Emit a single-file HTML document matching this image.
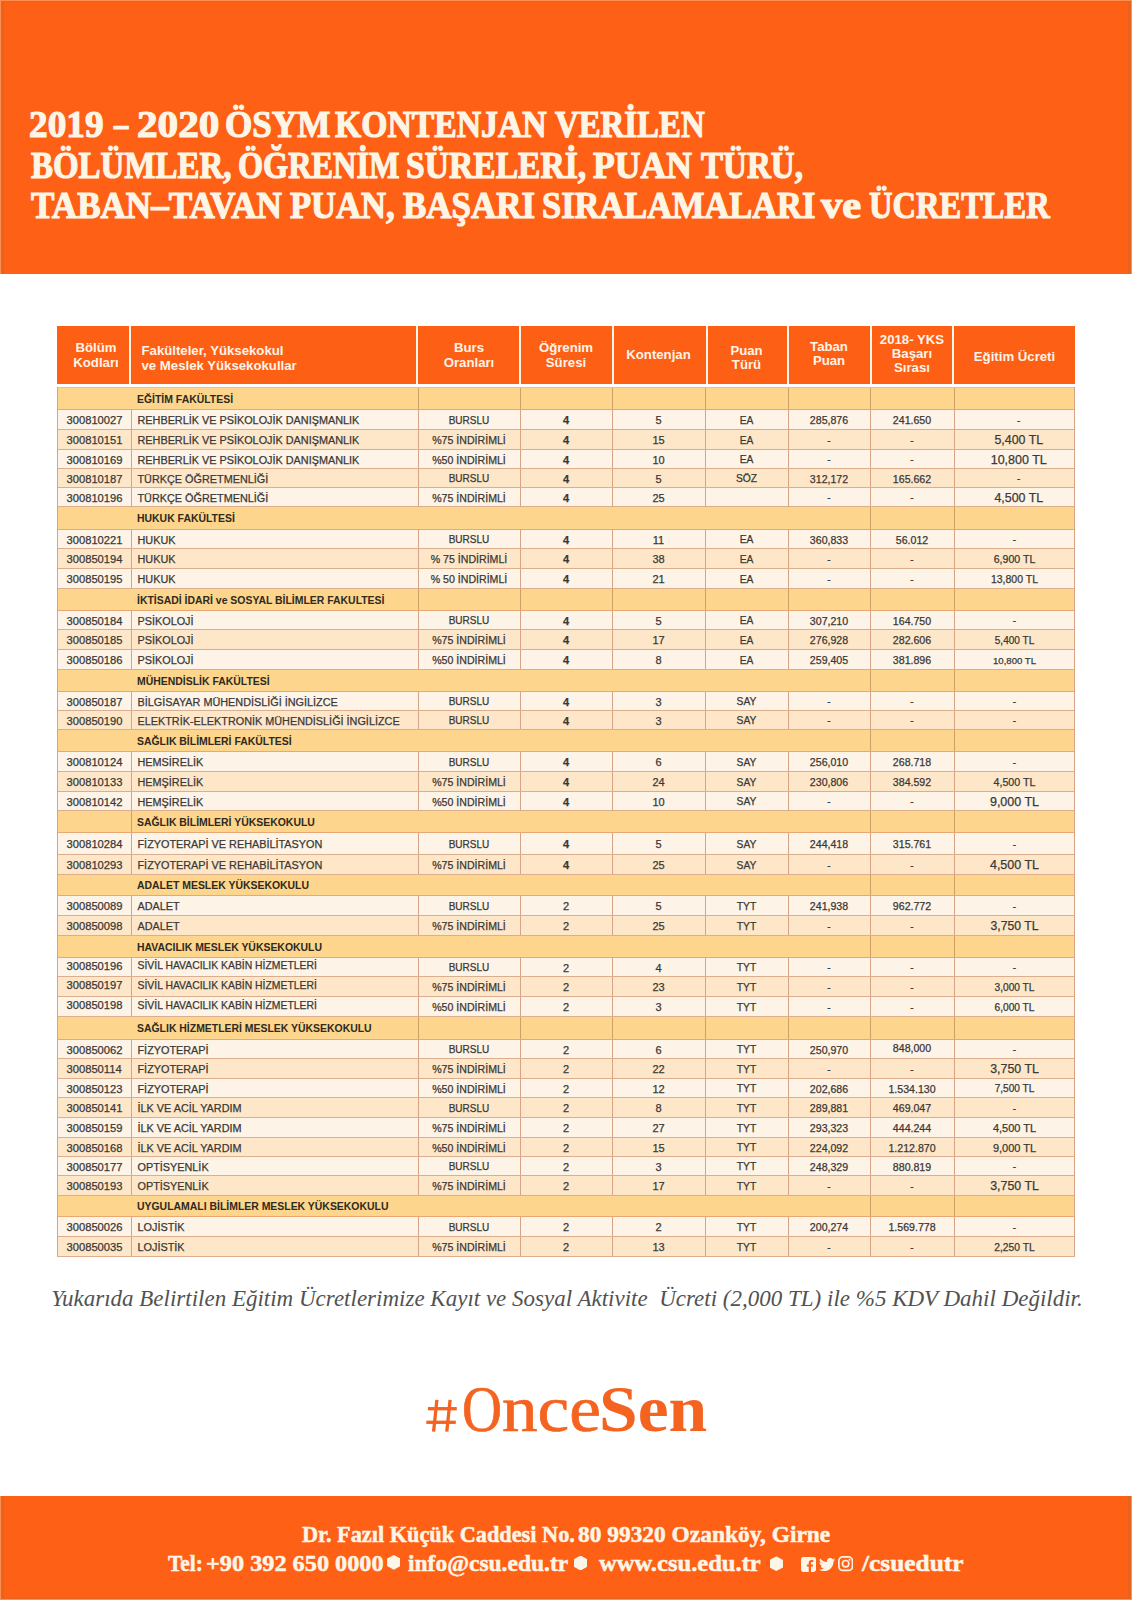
<!DOCTYPE html>
<html lang="tr"><head><meta charset="utf-8"><title>2019-2020 ÖSYM Kontenjan</title>
<style>
*{margin:0;padding:0;box-sizing:border-box}
html,body{width:1132px;height:1600px;overflow:hidden;background:#fff}
body{position:relative;font-family:"Liberation Sans",sans-serif;color:#3b3835}
.top{position:absolute;left:0;top:0;width:1132px;height:274px;background:#fe6016;box-shadow:inset 1px 1px 0 #fe8f50,inset -1px 0 0 #fe8f50,inset 4px 2px 0 #e6641f,inset -4px 0 0 #e6641f}
.title{position:absolute;left:29px;font-family:"Liberation Serif",serif;font-weight:bold;color:#fdf5e6;font-size:38px;line-height:38px;white-space:nowrap;transform-origin:0 0;-webkit-text-stroke:1.2px #fdf5e6}
.hdr{position:absolute;left:57px;top:326px;width:1018px;height:58px;background:#fd5f15}
.hc{position:absolute;color:#fff4e8;font-weight:bold;font-size:13.2px;white-space:nowrap}
.hsep{position:absolute;top:0;width:2.1px;height:58px;background:#fff6ea}
.r{position:absolute;left:57px;width:1018px}
.c{position:absolute;top:1.5px;bottom:0;white-space:nowrap;font-size:11px;display:flex;align-items:center;justify-content:center;-webkit-text-stroke:0.25px #3b3835}
.odd{background:#fdf3e6;border-top:1px solid #dcae8e}
.even{background:#fee7c9;border-top:1px solid #dcae8e}
.sr{background:#fdd58c;border-top:1px solid #dcae8e}
.odd.fs,.even.fs{border-top-color:#e8a874}
.c.l{justify-content:flex-start}
.vl{position:absolute;top:0;bottom:0;width:1px;background:#d7a385}
.hl{position:absolute;left:0;right:0;height:1px;background:#dcae8e}
.svl{background:#cf9f68}
.sec{font-weight:bold;color:#2e2a20;font-size:10.45px;-webkit-text-stroke:0}
.note{position:absolute;left:51.3px;top:1286.8px;font-family:"Liberation Serif",serif;font-style:italic;font-size:23px;line-height:23px;color:#525252;white-space:nowrap;transform-origin:0 0}
.once{position:absolute;top:1376.7px;transform-origin:0 0;font-family:"Liberation Serif",serif;font-size:65.6px;color:#f46320;white-space:nowrap;line-height:65.6px}
.once b{font-weight:bold}
.foot{position:absolute;left:0;top:1496px;width:1132px;height:104px;background:#fe6016;box-shadow:inset 1px -1px 0 #fe8f50,inset -1px 0 0 #fe8f50,inset 4px -2px 0 #e6641f,inset -4px 0 0 #e6641f}
.fl{position:absolute;font-family:"Liberation Serif",serif;font-weight:bold;color:#fdf5e6;font-size:23px;line-height:23px;white-space:nowrap;transform-origin:0 0;-webkit-text-stroke:0.5px #fdf5e6}
.hex{position:absolute;width:13.4px;height:14.8px;background:#fdf5e6;clip-path:polygon(50% 0,100% 25%,100% 75%,50% 100%,0 75%,0 25%)}
.ico{position:absolute}
</style></head><body>

<div class="top"></div>
<div class="title" style="left:28.93px;top:104.7px;transform:scaleX(0.9808)">2019</div>
<div class="title" style="left:114.12px;top:104.7px;transform:scaleX(0.7500)">–</div>
<div class="title" style="left:136.96px;top:104.7px;transform:scaleX(1.0849)">2020</div>
<div class="title" style="left:225.44px;top:104.7px;transform:scaleX(0.9243)">ÖSYM</div>
<div class="title" style="left:334.78px;top:104.7px;transform:scaleX(0.8871)">KONTENJAN</div>
<div class="title" style="left:554.75px;top:104.7px;transform:scaleX(0.8641)">VERİLEN</div>
<div class="title" style="left:30.78px;top:146.0px;transform:scaleX(0.8669)">BÖLÜMLER,</div>
<div class="title" style="left:237.59px;top:146.0px;transform:scaleX(0.8497)">ÖĞRENİM</div>
<div class="title" style="left:406.23px;top:146.0px;transform:scaleX(0.8842)">SÜRELERİ,</div>
<div class="title" style="left:593.14px;top:146.0px;transform:scaleX(0.9367)">PUAN</div>
<div class="title" style="left:700.88px;top:146.0px;transform:scaleX(0.8698)">TÜRÜ,</div>
<div class="title" style="left:31.25px;top:186.4px;transform:scaleX(0.9231)">TABAN–TAVAN</div>
<div class="title" style="left:289.96px;top:186.4px;transform:scaleX(0.9088)">PUAN,</div>
<div class="title" style="left:403.25px;top:186.4px;transform:scaleX(0.9203)">BAŞARI</div>
<div class="title" style="left:541.79px;top:186.4px;transform:scaleX(0.9052)">SIRALAMALARI</div>
<div class="title" style="left:821.30px;top:186.4px;transform:scaleX(1.1175)">ve</div>
<div class="title" style="left:868.73px;top:186.4px;transform:scaleX(0.8557)">ÜCRETLER</div>
<div class="hdr">
<div class="hc" style="left:0px;width:74px;top:13.9px;line-height:15.10px;text-align:center;padding-left:4px;">Bölüm<br>Kodları</div>
<div class="hc" style="left:74px;width:287px;top:16.7px;line-height:15.20px;text-align:left;padding-left:10.5px;">Fakülteler, Yüksekokul<br>ve Meslek Yüksekokullar</div>
<div class="hc" style="left:361px;width:102px;top:13.7px;line-height:15.30px;text-align:center;">Burs<br>Oranları</div>
<div class="hc" style="left:463px;width:92px;top:14.4px;line-height:15.10px;text-align:center;">Öğrenim<br>Süresi</div>
<div class="hc" style="left:555px;width:93px;top:20.6px;line-height:15.00px;text-align:center;">Kontenjan</div>
<div class="hc" style="left:648px;width:83px;top:17.5px;line-height:14.10px;text-align:center;">Puan<br>Türü</div>
<div class="hc" style="left:731px;width:82px;top:14.2px;line-height:14.10px;text-align:center;">Taban<br>Puan</div>
<div class="hc" style="left:813px;width:84px;top:6.5px;line-height:14.25px;text-align:center;">2018- YKS<br>Başarı<br>Sırası</div>
<div class="hc" style="left:897px;width:121px;top:23.0px;line-height:15.00px;text-align:center;">Eğitim Ücreti</div>
<div class="hsep" style="left:72.4px"></div>
<div class="hsep" style="left:359.1px"></div>
<div class="hsep" style="left:461.5px"></div>
<div class="hsep" style="left:554.9px"></div>
<div class="hsep" style="left:649.0px"></div>
<div class="hsep" style="left:730.1px"></div>
<div class="hsep" style="left:813.3px"></div>
<div class="hsep" style="left:895.1px"></div>
</div>
<div class="r sr" style="top:387px;height:22px;border-top-color:#dcc496;">
<div class="c l sec" style="left:80px">EĞİTİM FAKÜLTESİ</div>
<div class="vl svl" style="left:361px"></div>
<div class="vl svl" style="left:463px"></div>
<div class="vl svl" style="left:555px"></div>
<div class="vl svl" style="left:648px"></div>
<div class="vl svl" style="left:731px"></div>
<div class="vl svl" style="left:813px"></div>
<div class="vl svl" style="left:897px"></div>
</div>
<div class="r odd fs" style="top:409px;height:20px">
<div class="c l" style="left:9.5px;font-size:11.20px;">300810027</div>
<div class="c l" style="left:80.5px;font-size:10.85px;">REHBERLİK VE PSİKOLOJİK DANIŞMANLIK</div>
<div class="c" style="left:361px;width:102px;font-size:10.00px;">BURSLU</div>
<div class="c" style="left:463px;width:92px;font-size:11.00px;font-weight:bold;">4</div>
<div class="c" style="left:555px;width:93px;font-size:11.00px;">5</div>
<div class="c" style="left:648px;width:83px;font-size:10.30px;">EA</div>
<div class="c" style="left:731px;width:82px;font-size:10.60px;">285,876</div>
<div class="c" style="left:813px;width:84px;font-size:10.60px;">241.650</div>
<div class="c" style="left:897px;width:121px;font-size:10.00px;padding-left:8.5px;">-</div>
<div class="vl" style="left:74px"></div>
<div class="vl" style="left:361px"></div>
<div class="vl" style="left:463px"></div>
<div class="vl" style="left:555px"></div>
<div class="vl" style="left:648px"></div>
<div class="vl" style="left:731px"></div>
<div class="vl" style="left:813px"></div>
<div class="vl" style="left:897px"></div>
</div>
<div class="r even" style="top:429px;height:20px">
<div class="c l" style="left:9.5px;font-size:11.20px;">300810151</div>
<div class="c l" style="left:80.5px;font-size:10.85px;">REHBERLİK VE PSİKOLOJİK DANIŞMANLIK</div>
<div class="c" style="left:361px;width:102px;font-size:10.60px;">%75 İNDİRİMLİ</div>
<div class="c" style="left:463px;width:92px;font-size:11.00px;font-weight:bold;">4</div>
<div class="c" style="left:555px;width:93px;font-size:11.00px;">15</div>
<div class="c" style="left:648px;width:83px;font-size:10.30px;">EA</div>
<div class="c" style="left:731px;width:82px;font-size:10.00px;">-</div>
<div class="c" style="left:813px;width:84px;font-size:10.00px;">-</div>
<div class="c" style="left:897px;width:121px;font-size:12.40px;padding-left:8.5px;">5,400 TL</div>
<div class="vl" style="left:74px"></div>
<div class="vl" style="left:361px"></div>
<div class="vl" style="left:463px"></div>
<div class="vl" style="left:555px"></div>
<div class="vl" style="left:648px"></div>
<div class="vl" style="left:731px"></div>
<div class="vl" style="left:813px"></div>
<div class="vl" style="left:897px"></div>
</div>
<div class="r odd" style="top:449px;height:19px">
<div class="c l" style="left:9.5px;font-size:11.20px;">300810169</div>
<div class="c l" style="left:80.5px;font-size:10.85px;">REHBERLİK VE PSİKOLOJİK DANIŞMANLIK</div>
<div class="c" style="left:361px;width:102px;font-size:10.60px;">%50 İNDİRİMLİ</div>
<div class="c" style="left:463px;width:92px;font-size:11.00px;font-weight:bold;">4</div>
<div class="c" style="left:555px;width:93px;font-size:11.00px;">10</div>
<div class="c" style="left:648px;width:83px;font-size:10.30px;">EA</div>
<div class="c" style="left:731px;width:82px;font-size:10.00px;">-</div>
<div class="c" style="left:813px;width:84px;font-size:10.00px;">-</div>
<div class="c" style="left:897px;width:121px;font-size:12.50px;padding-left:8.5px;">10,800 TL</div>
<div class="vl" style="left:74px"></div>
<div class="vl" style="left:361px"></div>
<div class="vl" style="left:463px"></div>
<div class="vl" style="left:555px"></div>
<div class="vl" style="left:648px"></div>
<div class="vl" style="left:731px"></div>
<div class="vl" style="left:813px"></div>
<div class="vl" style="left:897px"></div>
</div>
<div class="r even" style="top:468px;height:19px">
<div class="c l" style="left:9.5px;font-size:11.20px;">300810187</div>
<div class="c l" style="left:80.5px;font-size:10.85px;">TÜRKÇE ÖĞRETMENLİĞİ</div>
<div class="c" style="left:361px;width:102px;font-size:10.00px;">BURSLU</div>
<div class="c" style="left:463px;width:92px;font-size:11.00px;font-weight:bold;">4</div>
<div class="c" style="left:555px;width:93px;font-size:11.00px;">5</div>
<div class="c" style="left:648px;width:83px;font-size:10.30px;">SÖZ</div>
<div class="c" style="left:731px;width:82px;font-size:10.60px;">312,172</div>
<div class="c" style="left:813px;width:84px;font-size:10.60px;">165.662</div>
<div class="c" style="left:897px;width:121px;font-size:10.00px;padding-left:8.5px;">-</div>
<div class="vl" style="left:74px"></div>
<div class="vl" style="left:361px"></div>
<div class="vl" style="left:463px"></div>
<div class="vl" style="left:555px"></div>
<div class="vl" style="left:648px"></div>
<div class="vl" style="left:731px"></div>
<div class="vl" style="left:813px"></div>
<div class="vl" style="left:897px"></div>
</div>
<div class="r odd" style="top:487px;height:19px">
<div class="c l" style="left:9.5px;font-size:11.20px;">300810196</div>
<div class="c l" style="left:80.5px;font-size:10.85px;">TÜRKÇE ÖĞRETMENLİĞİ</div>
<div class="c" style="left:361px;width:102px;font-size:10.60px;">%75 İNDİRİMLİ</div>
<div class="c" style="left:463px;width:92px;font-size:11.00px;font-weight:bold;">4</div>
<div class="c" style="left:555px;width:93px;font-size:11.00px;">25</div>
<div class="c" style="left:648px;width:83px;font-size:10.30px;"></div>
<div class="c" style="left:731px;width:82px;font-size:10.00px;">-</div>
<div class="c" style="left:813px;width:84px;font-size:10.00px;">-</div>
<div class="c" style="left:897px;width:121px;font-size:12.40px;padding-left:8.5px;">4,500 TL</div>
<div class="vl" style="left:74px"></div>
<div class="vl" style="left:361px"></div>
<div class="vl" style="left:463px"></div>
<div class="vl" style="left:555px"></div>
<div class="vl" style="left:648px"></div>
<div class="vl" style="left:731px"></div>
<div class="vl" style="left:813px"></div>
<div class="vl" style="left:897px"></div>
</div>
<div class="r sr" style="top:506px;height:23px;">
<div class="c l sec" style="left:80px">HUKUK FAKÜLTESİ</div>
<div class="vl svl" style="left:813px"></div>
<div class="vl svl" style="left:897px"></div>
</div>
<div class="r odd fs" style="top:529px;height:19px">
<div class="c l" style="left:9.5px;font-size:11.20px;">300810221</div>
<div class="c l" style="left:80.5px;font-size:10.85px;">HUKUK</div>
<div class="c" style="left:361px;width:102px;font-size:10.00px;">BURSLU</div>
<div class="c" style="left:463px;width:92px;font-size:11.00px;font-weight:bold;">4</div>
<div class="c" style="left:555px;width:93px;font-size:11.00px;">11</div>
<div class="c" style="left:648px;width:83px;font-size:10.30px;">EA</div>
<div class="c" style="left:731px;width:82px;font-size:10.60px;">360,833</div>
<div class="c" style="left:813px;width:84px;font-size:10.60px;">56.012</div>
<div class="c" style="left:897px;width:121px;font-size:10.00px;">-</div>
<div class="vl" style="left:74px"></div>
<div class="vl" style="left:361px"></div>
<div class="vl" style="left:463px"></div>
<div class="vl" style="left:555px"></div>
<div class="vl" style="left:648px"></div>
<div class="vl" style="left:731px"></div>
<div class="vl" style="left:813px"></div>
<div class="vl" style="left:897px"></div>
</div>
<div class="r even" style="top:548px;height:20px">
<div class="c l" style="left:9.5px;font-size:11.20px;">300850194</div>
<div class="c l" style="left:80.5px;font-size:10.85px;">HUKUK</div>
<div class="c" style="left:361px;width:102px;font-size:10.60px;">% 75  İNDİRİMLİ</div>
<div class="c" style="left:463px;width:92px;font-size:11.00px;font-weight:bold;">4</div>
<div class="c" style="left:555px;width:93px;font-size:11.00px;">38</div>
<div class="c" style="left:648px;width:83px;font-size:10.30px;">EA</div>
<div class="c" style="left:731px;width:82px;font-size:10.00px;">-</div>
<div class="c" style="left:813px;width:84px;font-size:10.00px;">-</div>
<div class="c" style="left:897px;width:121px;font-size:10.60px;">6,900 TL</div>
<div class="vl" style="left:74px"></div>
<div class="vl" style="left:361px"></div>
<div class="vl" style="left:463px"></div>
<div class="vl" style="left:555px"></div>
<div class="vl" style="left:648px"></div>
<div class="vl" style="left:731px"></div>
<div class="vl" style="left:813px"></div>
<div class="vl" style="left:897px"></div>
</div>
<div class="r odd" style="top:568px;height:20px">
<div class="c l" style="left:9.5px;font-size:11.20px;">300850195</div>
<div class="c l" style="left:80.5px;font-size:10.85px;">HUKUK</div>
<div class="c" style="left:361px;width:102px;font-size:10.60px;">% 50 İNDİRİMLİ</div>
<div class="c" style="left:463px;width:92px;font-size:11.00px;font-weight:bold;">4</div>
<div class="c" style="left:555px;width:93px;font-size:11.00px;">21</div>
<div class="c" style="left:648px;width:83px;font-size:10.30px;">EA</div>
<div class="c" style="left:731px;width:82px;font-size:10.00px;">-</div>
<div class="c" style="left:813px;width:84px;font-size:10.00px;">-</div>
<div class="c" style="left:897px;width:121px;font-size:10.50px;">13,800 TL</div>
<div class="vl" style="left:74px"></div>
<div class="vl" style="left:361px"></div>
<div class="vl" style="left:463px"></div>
<div class="vl" style="left:555px"></div>
<div class="vl" style="left:648px"></div>
<div class="vl" style="left:731px"></div>
<div class="vl" style="left:813px"></div>
<div class="vl" style="left:897px"></div>
</div>
<div class="r sr" style="top:588px;height:22px;">
<div class="c l sec" style="left:80px">İKTİSADİ İDARİ ve SOSYAL BİLİMLER FAKULTESİ</div>
<div class="vl svl" style="left:361px"></div>
<div class="vl svl" style="left:463px"></div>
<div class="vl svl" style="left:555px"></div>
<div class="vl svl" style="left:648px"></div>
<div class="vl svl" style="left:731px"></div>
<div class="vl svl" style="left:813px"></div>
<div class="vl svl" style="left:897px"></div>
</div>
<div class="r odd fs" style="top:610px;height:19px">
<div class="c l" style="left:9.5px;font-size:11.20px;">300850184</div>
<div class="c l" style="left:80.5px;font-size:10.85px;">PSİKOLOJİ</div>
<div class="c" style="left:361px;width:102px;font-size:10.00px;">BURSLU</div>
<div class="c" style="left:463px;width:92px;font-size:11.00px;font-weight:bold;">4</div>
<div class="c" style="left:555px;width:93px;font-size:11.00px;">5</div>
<div class="c" style="left:648px;width:83px;font-size:10.30px;">EA</div>
<div class="c" style="left:731px;width:82px;font-size:10.60px;">307,210</div>
<div class="c" style="left:813px;width:84px;font-size:10.60px;">164.750</div>
<div class="c" style="left:897px;width:121px;font-size:10.00px;">-</div>
<div class="vl" style="left:74px"></div>
<div class="vl" style="left:361px"></div>
<div class="vl" style="left:463px"></div>
<div class="vl" style="left:555px"></div>
<div class="vl" style="left:648px"></div>
<div class="vl" style="left:731px"></div>
<div class="vl" style="left:813px"></div>
<div class="vl" style="left:897px"></div>
</div>
<div class="r even" style="top:629px;height:20px">
<div class="c l" style="left:9.5px;font-size:11.20px;">300850185</div>
<div class="c l" style="left:80.5px;font-size:10.85px;">PSİKOLOJİ</div>
<div class="c" style="left:361px;width:102px;font-size:10.60px;">%75 İNDİRİMLİ</div>
<div class="c" style="left:463px;width:92px;font-size:11.00px;font-weight:bold;">4</div>
<div class="c" style="left:555px;width:93px;font-size:11.00px;">17</div>
<div class="c" style="left:648px;width:83px;font-size:10.30px;">EA</div>
<div class="c" style="left:731px;width:82px;font-size:10.60px;">276,928</div>
<div class="c" style="left:813px;width:84px;font-size:10.60px;">282.606</div>
<div class="c" style="left:897px;width:121px;font-size:10.05px;">5,400 TL</div>
<div class="vl" style="left:74px"></div>
<div class="vl" style="left:361px"></div>
<div class="vl" style="left:463px"></div>
<div class="vl" style="left:555px"></div>
<div class="vl" style="left:648px"></div>
<div class="vl" style="left:731px"></div>
<div class="vl" style="left:813px"></div>
<div class="vl" style="left:897px"></div>
</div>
<div class="r odd" style="top:649px;height:20px">
<div class="c l" style="left:9.5px;font-size:11.20px;">300850186</div>
<div class="c l" style="left:80.5px;font-size:10.85px;">PSİKOLOJİ</div>
<div class="c" style="left:361px;width:102px;font-size:10.60px;">%50 İNDİRİMLİ</div>
<div class="c" style="left:463px;width:92px;font-size:11.00px;font-weight:bold;">4</div>
<div class="c" style="left:555px;width:93px;font-size:11.00px;">8</div>
<div class="c" style="left:648px;width:83px;font-size:10.30px;">EA</div>
<div class="c" style="left:731px;width:82px;font-size:10.60px;">259,405</div>
<div class="c" style="left:813px;width:84px;font-size:10.60px;">381.896</div>
<div class="c" style="left:897px;width:121px;font-size:9.60px;">10,800 TL</div>
<div class="vl" style="left:74px"></div>
<div class="vl" style="left:361px"></div>
<div class="vl" style="left:463px"></div>
<div class="vl" style="left:555px"></div>
<div class="vl" style="left:648px"></div>
<div class="vl" style="left:731px"></div>
<div class="vl" style="left:813px"></div>
<div class="vl" style="left:897px"></div>
</div>
<div class="r sr" style="top:669px;height:22px;">
<div class="c l sec" style="left:80px">MÜHENDİSLİK FAKÜLTESİ</div>
<div class="vl svl" style="left:813px"></div>
<div class="vl svl" style="left:897px"></div>
</div>
<div class="r odd fs" style="top:691px;height:19px">
<div class="c l" style="left:9.5px;font-size:11.20px;">300850187</div>
<div class="c l" style="left:80.5px;font-size:10.85px;">BİLGİSAYAR MÜHENDİSLİĞİ İNGİLİZCE</div>
<div class="c" style="left:361px;width:102px;font-size:10.00px;">BURSLU</div>
<div class="c" style="left:463px;width:92px;font-size:11.00px;font-weight:bold;">4</div>
<div class="c" style="left:555px;width:93px;font-size:11.00px;">3</div>
<div class="c" style="left:648px;width:83px;font-size:10.30px;">SAY</div>
<div class="c" style="left:731px;width:82px;font-size:10.00px;">-</div>
<div class="c" style="left:813px;width:84px;font-size:10.00px;">-</div>
<div class="c" style="left:897px;width:121px;font-size:10.00px;">-</div>
<div class="vl" style="left:74px"></div>
<div class="vl" style="left:361px"></div>
<div class="vl" style="left:463px"></div>
<div class="vl" style="left:555px"></div>
<div class="vl" style="left:648px"></div>
<div class="vl" style="left:731px"></div>
<div class="vl" style="left:813px"></div>
<div class="vl" style="left:897px"></div>
</div>
<div class="r even" style="top:710px;height:19px">
<div class="c l" style="left:9.5px;font-size:11.20px;">300850190</div>
<div class="c l" style="left:80.5px;font-size:10.85px;">ELEKTRİK-ELEKTRONİK MÜHENDİSLİĞİ İNGİLİZCE</div>
<div class="c" style="left:361px;width:102px;font-size:10.00px;">BURSLU</div>
<div class="c" style="left:463px;width:92px;font-size:11.00px;font-weight:bold;">4</div>
<div class="c" style="left:555px;width:93px;font-size:11.00px;">3</div>
<div class="c" style="left:648px;width:83px;font-size:10.30px;">SAY</div>
<div class="c" style="left:731px;width:82px;font-size:10.00px;">-</div>
<div class="c" style="left:813px;width:84px;font-size:10.00px;">-</div>
<div class="c" style="left:897px;width:121px;font-size:10.00px;">-</div>
<div class="vl" style="left:74px"></div>
<div class="vl" style="left:361px"></div>
<div class="vl" style="left:463px"></div>
<div class="vl" style="left:555px"></div>
<div class="vl" style="left:648px"></div>
<div class="vl" style="left:731px"></div>
<div class="vl" style="left:813px"></div>
<div class="vl" style="left:897px"></div>
</div>
<div class="r sr" style="top:729px;height:22px;">
<div class="c l sec" style="left:80px">SAĞLIK BİLİMLERİ FAKÜLTESİ</div>
<div class="vl svl" style="left:813px"></div>
<div class="vl svl" style="left:897px"></div>
</div>
<div class="r odd fs" style="top:751px;height:20px">
<div class="c l" style="left:9.5px;font-size:11.20px;">300810124</div>
<div class="c l" style="left:80.5px;font-size:10.85px;">HEMSİRELİK</div>
<div class="c" style="left:361px;width:102px;font-size:10.00px;">BURSLU</div>
<div class="c" style="left:463px;width:92px;font-size:11.00px;font-weight:bold;">4</div>
<div class="c" style="left:555px;width:93px;font-size:11.00px;">6</div>
<div class="c" style="left:648px;width:83px;font-size:10.30px;">SAY</div>
<div class="c" style="left:731px;width:82px;font-size:10.60px;">256,010</div>
<div class="c" style="left:813px;width:84px;font-size:10.60px;">268.718</div>
<div class="c" style="left:897px;width:121px;font-size:10.00px;">-</div>
<div class="vl" style="left:74px"></div>
<div class="vl" style="left:361px"></div>
<div class="vl" style="left:463px"></div>
<div class="vl" style="left:555px"></div>
<div class="vl" style="left:648px"></div>
<div class="vl" style="left:731px"></div>
<div class="vl" style="left:813px"></div>
<div class="vl" style="left:897px"></div>
</div>
<div class="r even" style="top:771px;height:20px">
<div class="c l" style="left:9.5px;font-size:11.20px;">300810133</div>
<div class="c l" style="left:80.5px;font-size:10.85px;">HEMŞİRELİK</div>
<div class="c" style="left:361px;width:102px;font-size:10.60px;">%75 İNDİRİMLİ</div>
<div class="c" style="left:463px;width:92px;font-size:11.00px;font-weight:bold;">4</div>
<div class="c" style="left:555px;width:93px;font-size:11.00px;">24</div>
<div class="c" style="left:648px;width:83px;font-size:10.30px;">SAY</div>
<div class="c" style="left:731px;width:82px;font-size:10.60px;">230,806</div>
<div class="c" style="left:813px;width:84px;font-size:10.60px;">384.592</div>
<div class="c" style="left:897px;width:121px;font-size:10.70px;">4,500 TL</div>
<div class="vl" style="left:74px"></div>
<div class="vl" style="left:361px"></div>
<div class="vl" style="left:463px"></div>
<div class="vl" style="left:555px"></div>
<div class="vl" style="left:648px"></div>
<div class="vl" style="left:731px"></div>
<div class="vl" style="left:813px"></div>
<div class="vl" style="left:897px"></div>
</div>
<div class="r odd" style="top:791px;height:19px">
<div class="c l" style="left:9.5px;font-size:11.20px;">300810142</div>
<div class="c l" style="left:80.5px;font-size:10.85px;">HEMŞİRELİK</div>
<div class="c" style="left:361px;width:102px;font-size:10.60px;">%50 İNDİRİMLİ</div>
<div class="c" style="left:463px;width:92px;font-size:11.00px;font-weight:bold;">4</div>
<div class="c" style="left:555px;width:93px;font-size:11.00px;">10</div>
<div class="c" style="left:648px;width:83px;font-size:10.30px;">SAY</div>
<div class="c" style="left:731px;width:82px;font-size:10.00px;">-</div>
<div class="c" style="left:813px;width:84px;font-size:10.00px;">-</div>
<div class="c" style="left:897px;width:121px;font-size:12.50px;">9,000 TL</div>
<div class="vl" style="left:74px"></div>
<div class="vl" style="left:361px"></div>
<div class="vl" style="left:463px"></div>
<div class="vl" style="left:555px"></div>
<div class="vl" style="left:648px"></div>
<div class="vl" style="left:731px"></div>
<div class="vl" style="left:813px"></div>
<div class="vl" style="left:897px"></div>
</div>
<div class="r sr" style="top:810px;height:22px;">
<div class="c l sec" style="left:80px">SAĞLIK BİLİMLERİ YÜKSEKOKULU</div>
<div class="vl svl" style="left:74px"></div>
<div class="vl svl" style="left:813px"></div>
<div class="vl svl" style="left:897px"></div>
</div>
<div class="r odd fs" style="top:832px;height:22px">
<div class="c l" style="left:9.5px;font-size:11.20px;">300810284</div>
<div class="c l" style="left:80.5px;font-size:10.85px;">FİZYOTERAPİ VE REHABİLİTASYON</div>
<div class="c" style="left:361px;width:102px;font-size:10.00px;">BURSLU</div>
<div class="c" style="left:463px;width:92px;font-size:11.00px;font-weight:bold;">4</div>
<div class="c" style="left:555px;width:93px;font-size:11.00px;">5</div>
<div class="c" style="left:648px;width:83px;font-size:10.30px;">SAY</div>
<div class="c" style="left:731px;width:82px;font-size:10.60px;">244,418</div>
<div class="c" style="left:813px;width:84px;font-size:10.60px;">315.761</div>
<div class="c" style="left:897px;width:121px;font-size:10.00px;">-</div>
<div class="vl" style="left:74px"></div>
<div class="vl" style="left:361px"></div>
<div class="vl" style="left:463px"></div>
<div class="vl" style="left:555px"></div>
<div class="vl" style="left:648px"></div>
<div class="vl" style="left:731px"></div>
<div class="vl" style="left:813px"></div>
<div class="vl" style="left:897px"></div>
</div>
<div class="r even" style="top:854px;height:20px">
<div class="c l" style="left:9.5px;font-size:11.20px;">300810293</div>
<div class="c l" style="left:80.5px;font-size:10.85px;">FİZYOTERAPİ VE REHABİLİTASYON</div>
<div class="c" style="left:361px;width:102px;font-size:10.60px;">%75 İNDİRİMLİ</div>
<div class="c" style="left:463px;width:92px;font-size:11.00px;font-weight:bold;">4</div>
<div class="c" style="left:555px;width:93px;font-size:11.00px;">25</div>
<div class="c" style="left:648px;width:83px;font-size:10.30px;">SAY</div>
<div class="c" style="left:731px;width:82px;font-size:10.00px;">-</div>
<div class="c" style="left:813px;width:84px;font-size:10.00px;">-</div>
<div class="c" style="left:897px;width:121px;font-size:12.50px;">4,500 TL</div>
<div class="vl" style="left:74px"></div>
<div class="vl" style="left:361px"></div>
<div class="vl" style="left:463px"></div>
<div class="vl" style="left:555px"></div>
<div class="vl" style="left:648px"></div>
<div class="vl" style="left:731px"></div>
<div class="vl" style="left:813px"></div>
<div class="vl" style="left:897px"></div>
</div>
<div class="r sr" style="top:874px;height:21px;">
<div class="c l sec" style="left:80px">ADALET MESLEK YÜKSEKOKULU</div>
<div class="vl svl" style="left:813px"></div>
<div class="vl svl" style="left:897px"></div>
</div>
<div class="r odd fs" style="top:895px;height:20px">
<div class="c l" style="left:9.5px;font-size:11.20px;">300850089</div>
<div class="c l" style="left:80.5px;font-size:10.85px;">ADALET</div>
<div class="c" style="left:361px;width:102px;font-size:10.00px;">BURSLU</div>
<div class="c" style="left:463px;width:92px;font-size:11.00px;">2</div>
<div class="c" style="left:555px;width:93px;font-size:11.00px;">5</div>
<div class="c" style="left:648px;width:83px;font-size:10.30px;">TYT</div>
<div class="c" style="left:731px;width:82px;font-size:10.60px;">241,938</div>
<div class="c" style="left:813px;width:84px;font-size:10.60px;">962.772</div>
<div class="c" style="left:897px;width:121px;font-size:10.00px;">-</div>
<div class="vl" style="left:74px"></div>
<div class="vl" style="left:361px"></div>
<div class="vl" style="left:463px"></div>
<div class="vl" style="left:555px"></div>
<div class="vl" style="left:648px"></div>
<div class="vl" style="left:731px"></div>
<div class="vl" style="left:813px"></div>
<div class="vl" style="left:897px"></div>
</div>
<div class="r even" style="top:915px;height:20px">
<div class="c l" style="left:9.5px;font-size:11.20px;">300850098</div>
<div class="c l" style="left:80.5px;font-size:10.85px;">ADALET</div>
<div class="c" style="left:361px;width:102px;font-size:10.60px;">%75 İNDİRİMLİ</div>
<div class="c" style="left:463px;width:92px;font-size:11.00px;">2</div>
<div class="c" style="left:555px;width:93px;font-size:11.00px;">25</div>
<div class="c" style="left:648px;width:83px;font-size:10.30px;">TYT</div>
<div class="c" style="left:731px;width:82px;font-size:10.00px;">-</div>
<div class="c" style="left:813px;width:84px;font-size:10.00px;">-</div>
<div class="c" style="left:897px;width:121px;font-size:12.20px;">3,750 TL</div>
<div class="vl" style="left:74px"></div>
<div class="vl" style="left:361px"></div>
<div class="vl" style="left:463px"></div>
<div class="vl" style="left:555px"></div>
<div class="vl" style="left:648px"></div>
<div class="vl" style="left:731px"></div>
<div class="vl" style="left:813px"></div>
<div class="vl" style="left:897px"></div>
</div>
<div class="r sr" style="top:935px;height:22px;">
<div class="c l sec" style="left:80px">HAVACILIK MESLEK YÜKSEKOKULU</div>
<div class="vl svl" style="left:813px"></div>
<div class="vl svl" style="left:897px"></div>
</div>
<div class="r odd fs" style="top:957px;height:19px">
<div class="c l" style="left:9.5px;font-size:11.20px;top:-0.7px;bottom:2px;">300850196</div>
<div class="c l" style="left:80.5px;font-size:10.40px;top:-0.7px;bottom:2px;">SİVİL HAVACILIK KABİN HİZMETLERİ</div>
<div class="c" style="left:361px;width:102px;font-size:10.00px;">BURSLU</div>
<div class="c" style="left:463px;width:92px;font-size:11.00px;">2</div>
<div class="c" style="left:555px;width:93px;font-size:11.00px;">4</div>
<div class="c" style="left:648px;width:83px;font-size:10.30px;">TYT</div>
<div class="c" style="left:731px;width:82px;font-size:10.00px;">-</div>
<div class="c" style="left:813px;width:84px;font-size:10.00px;">-</div>
<div class="c" style="left:897px;width:121px;font-size:10.00px;">-</div>
<div class="vl" style="left:74px"></div>
<div class="vl" style="left:361px"></div>
<div class="vl" style="left:463px"></div>
<div class="vl" style="left:555px"></div>
<div class="vl" style="left:648px"></div>
<div class="vl" style="left:731px"></div>
<div class="vl" style="left:813px"></div>
<div class="vl" style="left:897px"></div>
</div>
<div class="r even" style="top:976px;height:20px">
<div class="c l" style="left:9.5px;font-size:11.20px;top:-0.7px;bottom:2px;">300850197</div>
<div class="c l" style="left:80.5px;font-size:10.40px;top:-0.7px;bottom:2px;">SİVİL HAVACILIK KABİN HİZMETLERİ</div>
<div class="c" style="left:361px;width:102px;font-size:10.60px;">%75 İNDİRİMLİ</div>
<div class="c" style="left:463px;width:92px;font-size:11.00px;">2</div>
<div class="c" style="left:555px;width:93px;font-size:11.00px;">23</div>
<div class="c" style="left:648px;width:83px;font-size:10.30px;">TYT</div>
<div class="c" style="left:731px;width:82px;font-size:10.00px;">-</div>
<div class="c" style="left:813px;width:84px;font-size:10.00px;">-</div>
<div class="c" style="left:897px;width:121px;font-size:10.20px;">3,000 TL</div>
<div class="vl" style="left:74px"></div>
<div class="vl" style="left:361px"></div>
<div class="vl" style="left:463px"></div>
<div class="vl" style="left:555px"></div>
<div class="vl" style="left:648px"></div>
<div class="vl" style="left:731px"></div>
<div class="vl" style="left:813px"></div>
<div class="vl" style="left:897px"></div>
</div>
<div class="r odd" style="top:996px;height:20px">
<div class="c l" style="left:9.5px;font-size:11.20px;top:-0.7px;bottom:2px;">300850198</div>
<div class="c l" style="left:80.5px;font-size:10.40px;top:-0.7px;bottom:2px;">SİVİL HAVACILIK KABİN HİZMETLERİ</div>
<div class="c" style="left:361px;width:102px;font-size:10.60px;">%50 İNDİRİMLİ</div>
<div class="c" style="left:463px;width:92px;font-size:11.00px;">2</div>
<div class="c" style="left:555px;width:93px;font-size:11.00px;">3</div>
<div class="c" style="left:648px;width:83px;font-size:10.30px;">TYT</div>
<div class="c" style="left:731px;width:82px;font-size:10.00px;">-</div>
<div class="c" style="left:813px;width:84px;font-size:10.00px;">-</div>
<div class="c" style="left:897px;width:121px;font-size:10.20px;">6,000 TL</div>
<div class="vl" style="left:74px"></div>
<div class="vl" style="left:361px"></div>
<div class="vl" style="left:463px"></div>
<div class="vl" style="left:555px"></div>
<div class="vl" style="left:648px"></div>
<div class="vl" style="left:731px"></div>
<div class="vl" style="left:813px"></div>
<div class="vl" style="left:897px"></div>
</div>
<div class="r sr" style="top:1016px;height:23px;">
<div class="c l sec" style="left:80px">SAĞLIK HİZMETLERİ MESLEK YÜKSEKOKULU</div>
<div class="vl svl" style="left:361px"></div>
<div class="vl svl" style="left:463px"></div>
<div class="vl svl" style="left:555px"></div>
<div class="vl svl" style="left:648px"></div>
<div class="vl svl" style="left:731px"></div>
<div class="vl svl" style="left:813px"></div>
<div class="vl svl" style="left:897px"></div>
</div>
<div class="r odd fs" style="top:1039px;height:19px">
<div class="c l" style="left:9.5px;font-size:11.20px;">300850062</div>
<div class="c l" style="left:80.5px;font-size:10.85px;">FİZYOTERAPİ</div>
<div class="c" style="left:361px;width:102px;font-size:10.00px;">BURSLU</div>
<div class="c" style="left:463px;width:92px;font-size:11.00px;">2</div>
<div class="c" style="left:555px;width:93px;font-size:11.00px;">6</div>
<div class="c" style="left:648px;width:83px;font-size:10.30px;">TYT</div>
<div class="c" style="left:731px;width:82px;font-size:10.60px;">250,970</div>
<div class="c" style="left:813px;width:84px;font-size:10.60px;top:-0.5px;bottom:1px;">848,000</div>
<div class="c" style="left:897px;width:121px;font-size:10.00px;">-</div>
<div class="vl" style="left:74px"></div>
<div class="vl" style="left:361px"></div>
<div class="vl" style="left:463px"></div>
<div class="vl" style="left:555px"></div>
<div class="vl" style="left:648px"></div>
<div class="vl" style="left:731px"></div>
<div class="vl" style="left:813px"></div>
<div class="vl" style="left:897px"></div>
</div>
<div class="r even" style="top:1058px;height:20px">
<div class="c l" style="left:9.5px;font-size:11.20px;">300850114</div>
<div class="c l" style="left:80.5px;font-size:10.85px;">FİZYOTERAPİ</div>
<div class="c" style="left:361px;width:102px;font-size:10.60px;">%75 İNDİRİMLİ</div>
<div class="c" style="left:463px;width:92px;font-size:11.00px;">2</div>
<div class="c" style="left:555px;width:93px;font-size:11.00px;">22</div>
<div class="c" style="left:648px;width:83px;font-size:10.30px;">TYT</div>
<div class="c" style="left:731px;width:82px;font-size:10.00px;">-</div>
<div class="c" style="left:813px;width:84px;font-size:10.00px;">-</div>
<div class="c" style="left:897px;width:121px;font-size:12.40px;">3,750 TL</div>
<div class="vl" style="left:74px"></div>
<div class="vl" style="left:361px"></div>
<div class="vl" style="left:463px"></div>
<div class="vl" style="left:555px"></div>
<div class="vl" style="left:648px"></div>
<div class="vl" style="left:731px"></div>
<div class="vl" style="left:813px"></div>
<div class="vl" style="left:897px"></div>
</div>
<div class="r odd" style="top:1078px;height:19px">
<div class="c l" style="left:9.5px;font-size:11.20px;">300850123</div>
<div class="c l" style="left:80.5px;font-size:10.85px;">FİZYOTERAPİ</div>
<div class="c" style="left:361px;width:102px;font-size:10.60px;">%50 İNDİRİMLİ</div>
<div class="c" style="left:463px;width:92px;font-size:11.00px;">2</div>
<div class="c" style="left:555px;width:93px;font-size:11.00px;">12</div>
<div class="c" style="left:648px;width:83px;font-size:10.30px;">TYT</div>
<div class="c" style="left:731px;width:82px;font-size:10.60px;">202,686</div>
<div class="c" style="left:813px;width:84px;font-size:10.60px;">1.534.130</div>
<div class="c" style="left:897px;width:121px;font-size:10.10px;">7,500 TL</div>
<div class="vl" style="left:74px"></div>
<div class="vl" style="left:361px"></div>
<div class="vl" style="left:463px"></div>
<div class="vl" style="left:555px"></div>
<div class="vl" style="left:648px"></div>
<div class="vl" style="left:731px"></div>
<div class="vl" style="left:813px"></div>
<div class="vl" style="left:897px"></div>
</div>
<div class="r even" style="top:1097px;height:20px">
<div class="c l" style="left:9.5px;font-size:11.20px;">300850141</div>
<div class="c l" style="left:80.5px;font-size:10.85px;">İLK VE ACİL YARDIM</div>
<div class="c" style="left:361px;width:102px;font-size:10.00px;">BURSLU</div>
<div class="c" style="left:463px;width:92px;font-size:11.00px;">2</div>
<div class="c" style="left:555px;width:93px;font-size:11.00px;">8</div>
<div class="c" style="left:648px;width:83px;font-size:10.30px;">TYT</div>
<div class="c" style="left:731px;width:82px;font-size:10.60px;">289,881</div>
<div class="c" style="left:813px;width:84px;font-size:10.60px;">469.047</div>
<div class="c" style="left:897px;width:121px;font-size:10.00px;">-</div>
<div class="vl" style="left:74px"></div>
<div class="vl" style="left:361px"></div>
<div class="vl" style="left:463px"></div>
<div class="vl" style="left:555px"></div>
<div class="vl" style="left:648px"></div>
<div class="vl" style="left:731px"></div>
<div class="vl" style="left:813px"></div>
<div class="vl" style="left:897px"></div>
</div>
<div class="r odd" style="top:1117px;height:20px">
<div class="c l" style="left:9.5px;font-size:11.20px;">300850159</div>
<div class="c l" style="left:80.5px;font-size:10.85px;">İLK VE ACİL YARDIM</div>
<div class="c" style="left:361px;width:102px;font-size:10.60px;">%75 İNDİRİMLİ</div>
<div class="c" style="left:463px;width:92px;font-size:11.00px;">2</div>
<div class="c" style="left:555px;width:93px;font-size:11.00px;">27</div>
<div class="c" style="left:648px;width:83px;font-size:10.30px;">TYT</div>
<div class="c" style="left:731px;width:82px;font-size:10.60px;">293,323</div>
<div class="c" style="left:813px;width:84px;font-size:10.60px;">444.244</div>
<div class="c" style="left:897px;width:121px;font-size:11.00px;">4,500 TL</div>
<div class="vl" style="left:74px"></div>
<div class="vl" style="left:361px"></div>
<div class="vl" style="left:463px"></div>
<div class="vl" style="left:555px"></div>
<div class="vl" style="left:648px"></div>
<div class="vl" style="left:731px"></div>
<div class="vl" style="left:813px"></div>
<div class="vl" style="left:897px"></div>
</div>
<div class="r even" style="top:1137px;height:19px">
<div class="c l" style="left:9.5px;font-size:11.20px;">300850168</div>
<div class="c l" style="left:80.5px;font-size:10.85px;">İLK VE ACİL YARDIM</div>
<div class="c" style="left:361px;width:102px;font-size:10.60px;">%50 İNDİRİMLİ</div>
<div class="c" style="left:463px;width:92px;font-size:11.00px;">2</div>
<div class="c" style="left:555px;width:93px;font-size:11.00px;">15</div>
<div class="c" style="left:648px;width:83px;font-size:10.30px;">TYT</div>
<div class="c" style="left:731px;width:82px;font-size:10.60px;">224,092</div>
<div class="c" style="left:813px;width:84px;font-size:10.60px;">1.212.870</div>
<div class="c" style="left:897px;width:121px;font-size:11.00px;">9,000 TL</div>
<div class="vl" style="left:74px"></div>
<div class="vl" style="left:361px"></div>
<div class="vl" style="left:463px"></div>
<div class="vl" style="left:555px"></div>
<div class="vl" style="left:648px"></div>
<div class="vl" style="left:731px"></div>
<div class="vl" style="left:813px"></div>
<div class="vl" style="left:897px"></div>
</div>
<div class="r odd" style="top:1156px;height:19px">
<div class="c l" style="left:9.5px;font-size:11.20px;">300850177</div>
<div class="c l" style="left:80.5px;font-size:10.85px;">OPTİSYENLİK</div>
<div class="c" style="left:361px;width:102px;font-size:10.00px;">BURSLU</div>
<div class="c" style="left:463px;width:92px;font-size:11.00px;">2</div>
<div class="c" style="left:555px;width:93px;font-size:11.00px;">3</div>
<div class="c" style="left:648px;width:83px;font-size:10.30px;">TYT</div>
<div class="c" style="left:731px;width:82px;font-size:10.60px;">248,329</div>
<div class="c" style="left:813px;width:84px;font-size:10.60px;">880.819</div>
<div class="c" style="left:897px;width:121px;font-size:10.00px;">-</div>
<div class="vl" style="left:74px"></div>
<div class="vl" style="left:361px"></div>
<div class="vl" style="left:463px"></div>
<div class="vl" style="left:555px"></div>
<div class="vl" style="left:648px"></div>
<div class="vl" style="left:731px"></div>
<div class="vl" style="left:813px"></div>
<div class="vl" style="left:897px"></div>
</div>
<div class="r even" style="top:1175px;height:20px">
<div class="c l" style="left:9.5px;font-size:11.20px;">300850193</div>
<div class="c l" style="left:80.5px;font-size:10.85px;">OPTİSYENLİK</div>
<div class="c" style="left:361px;width:102px;font-size:10.60px;">%75 İNDİRİMLİ</div>
<div class="c" style="left:463px;width:92px;font-size:11.00px;">2</div>
<div class="c" style="left:555px;width:93px;font-size:11.00px;">17</div>
<div class="c" style="left:648px;width:83px;font-size:10.30px;">TYT</div>
<div class="c" style="left:731px;width:82px;font-size:10.00px;">-</div>
<div class="c" style="left:813px;width:84px;font-size:10.00px;">-</div>
<div class="c" style="left:897px;width:121px;font-size:12.40px;">3,750 TL</div>
<div class="vl" style="left:74px"></div>
<div class="vl" style="left:361px"></div>
<div class="vl" style="left:463px"></div>
<div class="vl" style="left:555px"></div>
<div class="vl" style="left:648px"></div>
<div class="vl" style="left:731px"></div>
<div class="vl" style="left:813px"></div>
<div class="vl" style="left:897px"></div>
</div>
<div class="r sr" style="top:1195px;height:21px;">
<div class="c l sec" style="left:80px">UYGULAMALI BİLİMLER MESLEK YÜKSEKOKULU</div>
<div class="vl svl" style="left:813px"></div>
<div class="vl svl" style="left:897px"></div>
</div>
<div class="r odd fs" style="top:1216px;height:20px">
<div class="c l" style="left:9.5px;font-size:11.20px;">300850026</div>
<div class="c l" style="left:80.5px;font-size:10.85px;">LOJİSTİK</div>
<div class="c" style="left:361px;width:102px;font-size:10.00px;">BURSLU</div>
<div class="c" style="left:463px;width:92px;font-size:11.00px;">2</div>
<div class="c" style="left:555px;width:93px;font-size:11.00px;">2</div>
<div class="c" style="left:648px;width:83px;font-size:10.30px;">TYT</div>
<div class="c" style="left:731px;width:82px;font-size:10.60px;">200,274</div>
<div class="c" style="left:813px;width:84px;font-size:10.60px;">1.569.778</div>
<div class="c" style="left:897px;width:121px;font-size:10.00px;">-</div>
<div class="vl" style="left:74px"></div>
<div class="vl" style="left:361px"></div>
<div class="vl" style="left:463px"></div>
<div class="vl" style="left:555px"></div>
<div class="vl" style="left:648px"></div>
<div class="vl" style="left:731px"></div>
<div class="vl" style="left:813px"></div>
<div class="vl" style="left:897px"></div>
</div>
<div class="r even" style="top:1236px;height:20px">
<div class="c l" style="left:9.5px;font-size:11.20px;">300850035</div>
<div class="c l" style="left:80.5px;font-size:10.85px;">LOJİSTİK</div>
<div class="c" style="left:361px;width:102px;font-size:10.60px;">%75 İNDİRİMLİ</div>
<div class="c" style="left:463px;width:92px;font-size:11.00px;">2</div>
<div class="c" style="left:555px;width:93px;font-size:11.00px;">13</div>
<div class="c" style="left:648px;width:83px;font-size:10.30px;">TYT</div>
<div class="c" style="left:731px;width:82px;font-size:10.00px;">-</div>
<div class="c" style="left:813px;width:84px;font-size:10.00px;">-</div>
<div class="c" style="left:897px;width:121px;font-size:10.30px;">2,250 TL</div>
<div class="vl" style="left:74px"></div>
<div class="vl" style="left:361px"></div>
<div class="vl" style="left:463px"></div>
<div class="vl" style="left:555px"></div>
<div class="vl" style="left:648px"></div>
<div class="vl" style="left:731px"></div>
<div class="vl" style="left:813px"></div>
<div class="vl" style="left:897px"></div>
</div>
<div style="position:absolute;left:57px;top:1256px;width:1018px;height:1px;background:#dcae8e"></div>
<div style="position:absolute;left:57px;top:387px;width:1px;height:869px;background:#d7a385"></div>
<div style="position:absolute;left:1074px;top:387px;width:1px;height:869px;background:#d7a385"></div>
<div class="note">Yukarıda Belirtilen Eğitim Ücretlerimize Kayıt ve Sosyal Aktivite&nbsp; Ücreti (2,000 TL) ile %5 KDV Dahil Değildir.</div>
<svg style="position:absolute;left:424px;top:1398px" width="36" height="36" viewBox="424 1398 36 36"><g stroke="#f46320" stroke-width="3.3" fill="none"><line x1="436.9" y1="1399.9" x2="433.6" y2="1431.6"/><line x1="450.1" y1="1399.9" x2="446.8" y2="1431.6"/><line x1="427.9" y1="1408.7" x2="456.8" y2="1408.7"/><line x1="426.3" y1="1422.3" x2="455.8" y2="1422.3"/></g></svg>
<div class="once" style="left:461.9px;transform:scaleX(0.845);-webkit-text-stroke:0.7px #f46320">O</div>
<div class="once" style="left:502.1px;transform:scaleX(1.086);-webkit-text-stroke:0.7px #f46320">nce</div>
<div class="once" style="left:598.6px;font-weight:bold;transform:scaleX(1.06)">Sen</div>
<div class="foot"></div>
<div class="fl" style="left:301.8px;top:1522.6px;transform:scaleX(0.969)">Dr. Fazıl Küçük Caddesi No.</div>
<div class="fl" style="left:578.3px;top:1522.6px;transform:scaleX(1.0175)">80 99320 Ozanköy, Girne</div>
<div class="fl" style="left:168.0px;top:1551.5px;transform:scaleX(0.931)">Tel:</div>
<div class="fl" style="left:205.9px;top:1551.5px;transform:scaleX(1.055)">+90 392 650 0000</div>
<div class="fl" style="left:408.1px;top:1551.5px;transform:scaleX(1.021)">info@csu.edu.tr</div>
<div class="fl" style="left:599.2px;top:1551.5px;transform:scaleX(1.068)">www.csu.edu.tr</div>
<div class="fl" style="left:862.2px;top:1551.5px;transform:scaleX(1.104)">/csuedutr</div>
<div class="hex" style="left:387.1px;top:1554.9px"></div>
<div class="hex" style="left:573.9px;top:1555.6px"></div>
<div class="hex" style="left:769.6px;top:1556.3px"></div>
<svg class="ico" style="left:801.2px;top:1556.6px" width="15" height="15" viewBox="0 0 15 15"><rect x="0" y="0" width="15" height="15" rx="2.4" fill="#fdf5e6"/><path transform="translate(1.4,0.4)" d="M8.6 15V9.2h1.9l.3-2.2H8.6V5.7c0-.6.2-1.1 1.1-1.1h1.2V2.6c-.2 0-.9-.1-1.7-.1-1.7 0-2.9 1-2.9 2.9V7H4.5v2.2h1.8V15z" fill="#fe6016"/></svg>
<svg class="ico" style="left:819px;top:1557.6px" width="16.2" height="13.4" viewBox="0 2.3 24 19.8"><path d="M23.954 4.569c-.885.389-1.83.654-2.825.775 1.014-.611 1.794-1.574 2.163-2.723-.951.555-2.005.959-3.127 1.184-.896-.959-2.173-1.559-3.591-1.559-2.717 0-4.92 2.203-4.92 4.917 0 .39.045.765.127 1.124C7.691 8.094 4.066 6.13 1.64 3.161c-.427.722-.666 1.561-.666 2.475 0 1.71.87 3.213 2.188 4.096-.807-.026-1.566-.248-2.228-.616v.061c0 2.385 1.693 4.374 3.946 4.827-.413.111-.849.171-1.296.171-.314 0-.615-.03-.916-.086.631 1.953 2.445 3.377 4.604 3.417-1.68 1.319-3.809 2.105-6.102 2.105-.39 0-.779-.023-1.17-.067 2.189 1.394 4.768 2.209 7.557 2.209 9.054 0 13.999-7.496 13.999-13.986 0-.209 0-.42-.015-.63.961-.689 1.8-1.56 2.46-2.548l-.047-.02z" fill="#fdf5e6"/></svg>
<svg class="ico" style="left:838.2px;top:1556.3px" width="15.3" height="15.3" viewBox="0 0 15.3 15.3"><rect x="0.85" y="0.85" width="13.6" height="13.6" rx="4" fill="none" stroke="#fdf5e6" stroke-width="1.7"/><circle cx="7.65" cy="7.65" r="3.2" fill="none" stroke="#fdf5e6" stroke-width="1.6"/><circle cx="11.6" cy="3.7" r="0.95" fill="#fdf5e6"/></svg>
</body></html>
